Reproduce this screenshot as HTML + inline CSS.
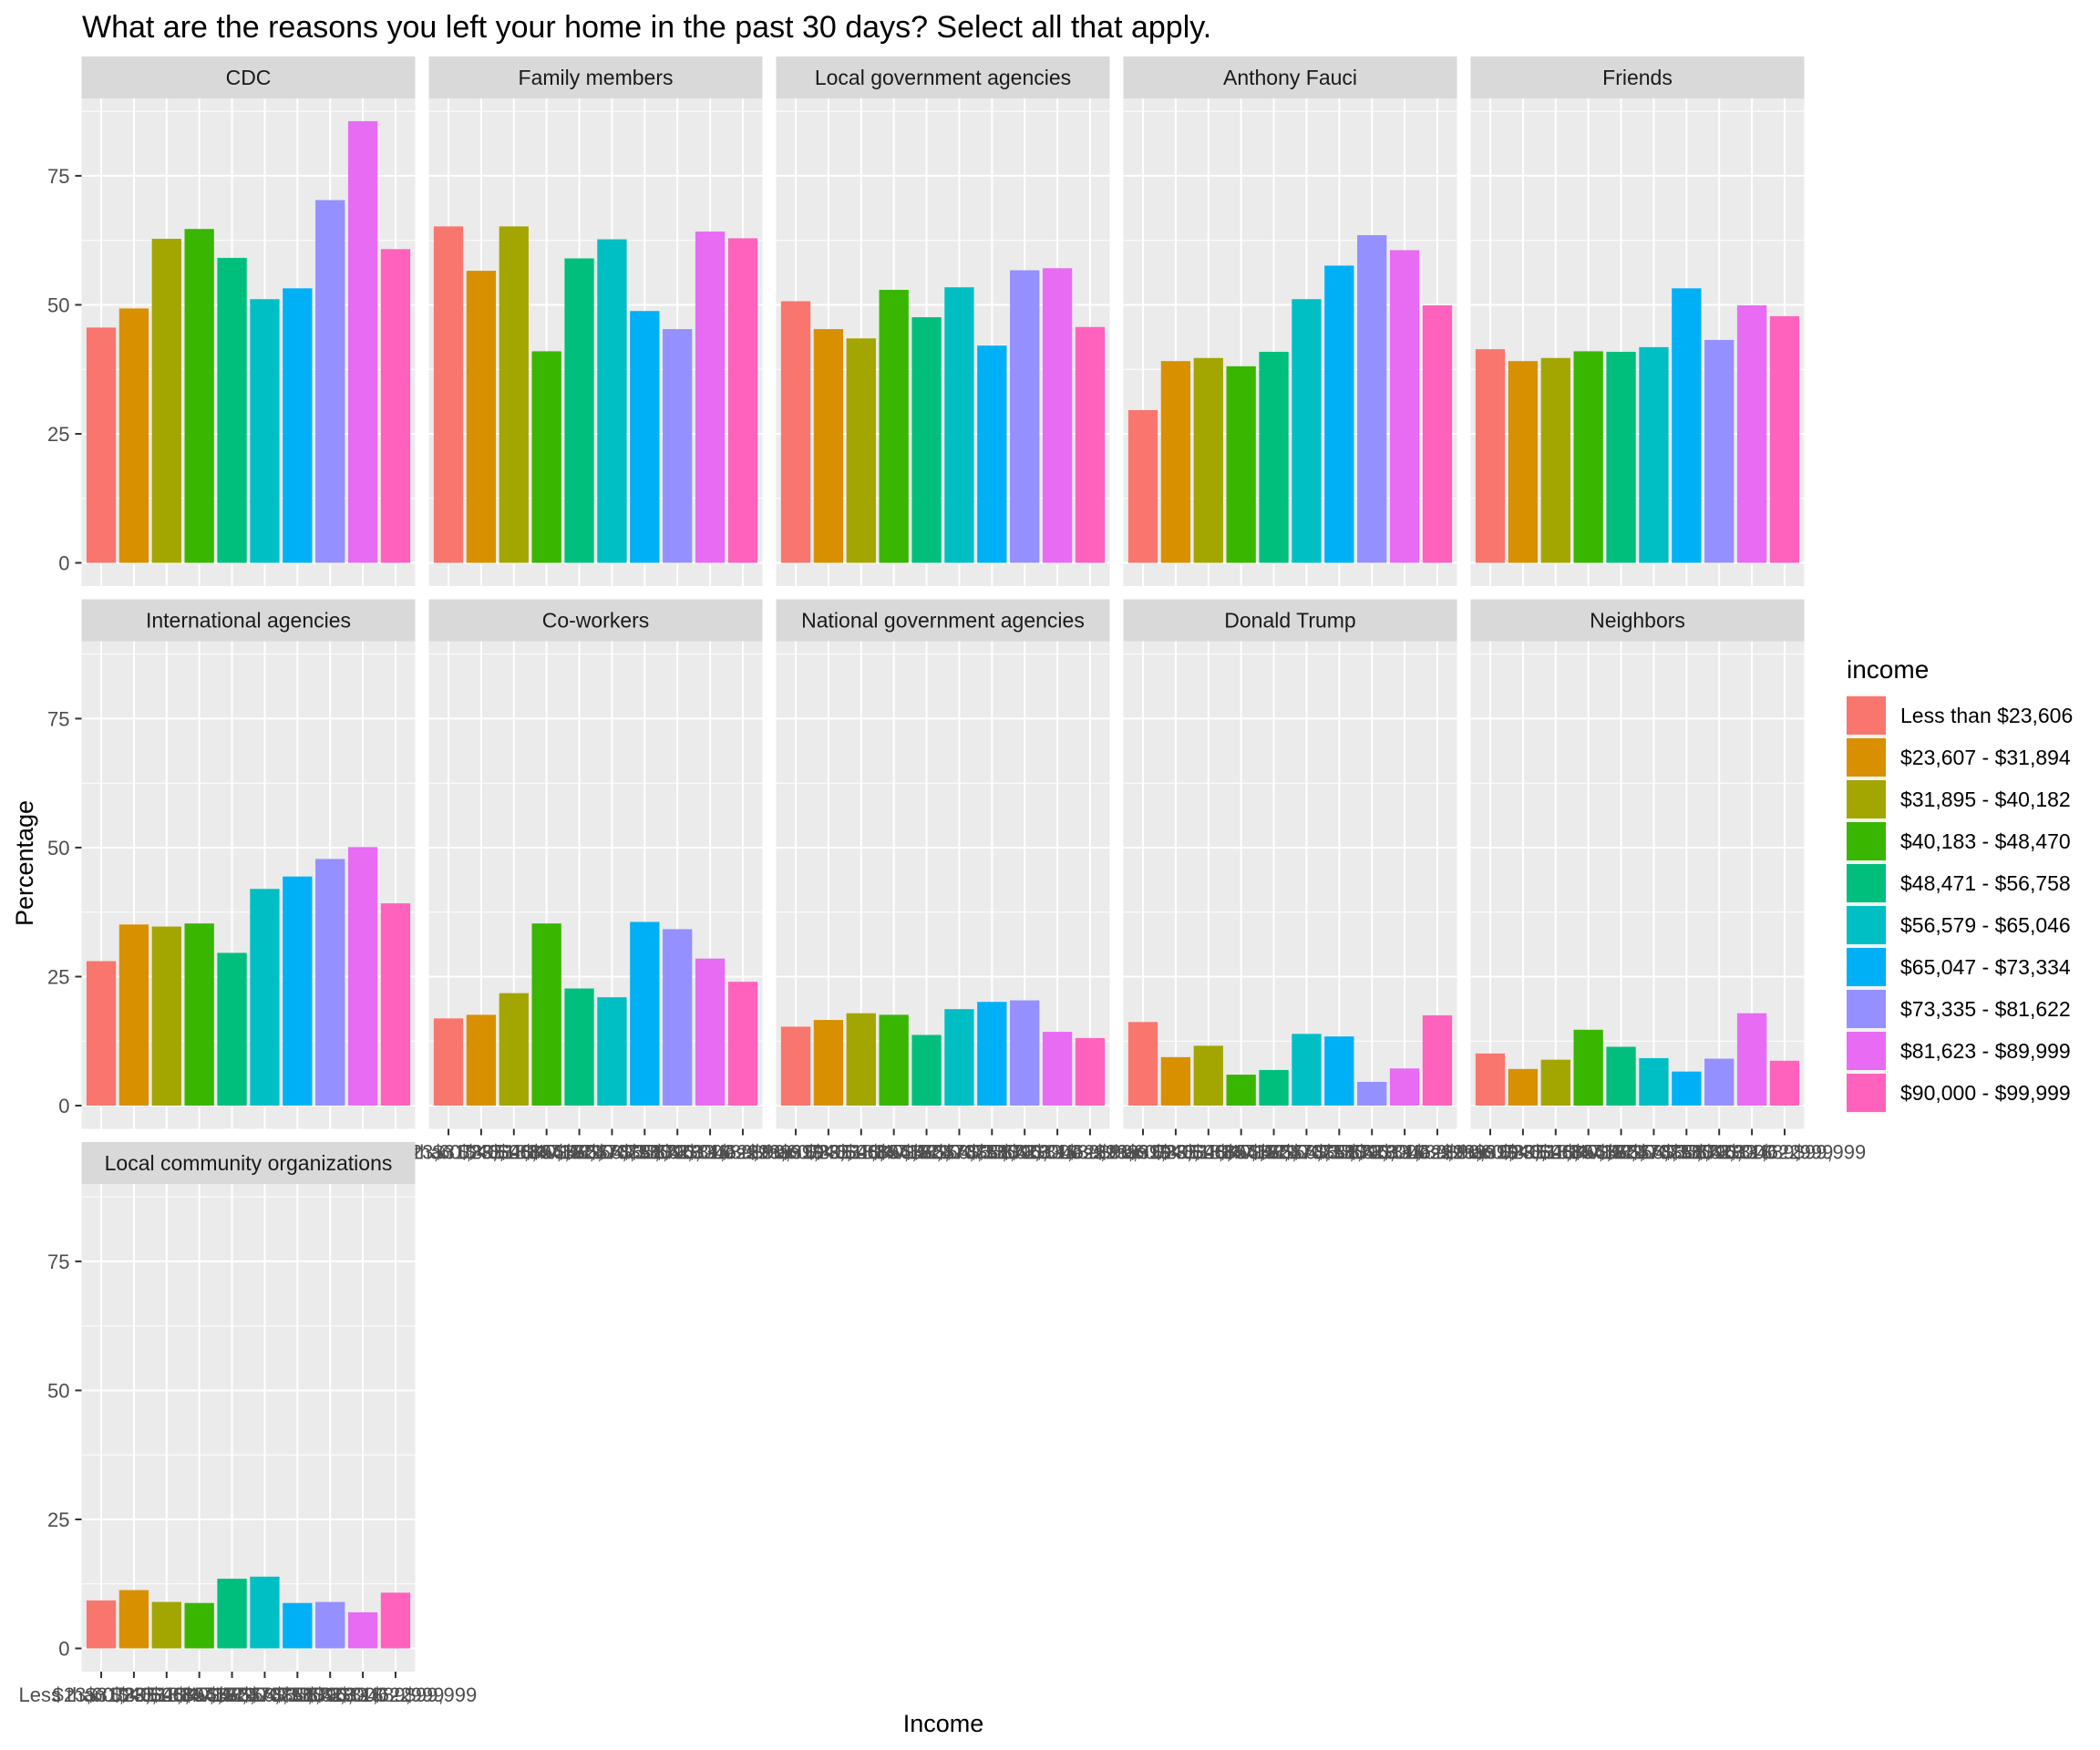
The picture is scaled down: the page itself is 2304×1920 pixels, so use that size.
<!DOCTYPE html>
<html><head><meta charset="utf-8"><style>
html,body{margin:0;padding:0;background:#fff;}
svg{display:block;font-family:"Liberation Sans",Arial,sans-serif;}
</style></head><body>
<svg id="chart" width="2304" height="1920" viewBox="0 0 2304 1920" xmlns="http://www.w3.org/2000/svg">
<rect x="0" y="0" width="2304" height="1920" fill="#ffffff"/>
<text x="90" y="41" font-size="34" fill="#000">What are the reasons you left your home in the past 30 days? Select all that apply.</text>
<text x="1035" y="1900" font-size="27" fill="#000" text-anchor="middle">Income</text>
<text x="0" y="0" font-size="27" fill="#000" text-anchor="middle" transform="translate(36,947) rotate(-90)">Percentage</text>
<g id="panels"></g>
<g id="legend"></g>
</svg>
<script>
const categories = ["Less than $23,606","$23,607 - $31,894","$31,895 - $40,182","$40,183 - $48,470","$48,471 - $56,758","$56,579 - $65,046","$65,047 - $73,334","$73,335 - $81,622","$81,623 - $89,999","$90,000 - $99,999"];
const facets = ["CDC","Family members","Local government agencies","Anthony Fauci","Friends","International agencies","Co-workers","National government agencies","Donald Trump","Neighbors","Local community organizations"];
const valsCDC = [45.6,49.3,62.8,64.7,59.1,51.1,53.2,70.3,85.6,60.8];
const valsFamily = [65.2,56.6,65.2,41.0,59.0,62.7,48.8,45.3,64.2,62.9];
const valsLocalGov = [50.7,45.3,43.5,52.9,47.6,53.4,42.1,56.7,57.1,45.7];
const valsFauci = [29.6,39.1,39.7,38.1,40.9,51.1,57.6,63.5,60.6,49.9];
const valsFriends = [41.4,39.1,39.7,41.0,40.9,41.8,53.2,43.2,49.9,47.8];
const valsIntl = [28.0,35.1,34.7,35.3,29.6,42.0,44.4,47.8,50.1,39.2];
const valsCoworkers = [16.9,17.6,21.8,35.3,22.7,21.0,35.6,34.2,28.5,24.0];
const valsNationalGov = [15.3,16.6,17.9,17.6,13.7,18.7,20.1,20.4,14.3,13.1];
const valsTrump = [16.2,9.4,11.6,6.0,6.9,13.9,13.4,4.6,7.2,17.5];
const valsNeighbors = [10.1,7.1,8.9,14.7,11.4,9.2,6.6,9.1,17.9,8.7];
const valsCommunity = [9.3,11.3,9.0,8.8,13.5,13.9,8.8,9.0,7.0,10.8];
const yTicks = [0,25,50,75];
const yMinor = [12.5,37.5,62.5,87.5];
const colors = ["#F8766D","#D89000","#A3A500","#39B600","#00BF7D","#00BFC4","#00B0F6","#9590FF","#E76BF3","#FF62BC"];
const allVals = [valsCDC,valsFamily,valsLocalGov,valsFauci,valsFriends,valsIntl,valsCoworkers,valsNationalGov,valsTrump,valsNeighbors,valsCommunity];

const NS="http://www.w3.org/2000/svg";
function mk(tag,attrs,parent){const e=document.createElementNS(NS,tag);for(const k in attrs)e.setAttribute(k,attrs[k]);parent.appendChild(e);return e;}
const panelsG=document.getElementById('panels');
const PW=366, PH=535, X0=89.5, XP=381, STRIP_TOP=62, STRIP_H=46, ROWP=595.5;
const yMin=-4.5, yMax=90;
const n=categories.length;
function slug(s){return s.toLowerCase().replace(/[^a-z0-9]+/g,'-').replace(/^-|-$/g,'');}

facets.forEach((f,i)=>{
  const row=Math.floor(i/5), col=i%5;
  const px=X0+col*XP, st=STRIP_TOP+row*ROWP, py=st+STRIP_H;
  const yS=v=>py+PH-(v-yMin)/(yMax-yMin)*PH;
  const xS=k=>px+(k+0.6)/(n+0.2)*PW;
  const band=PW/(n+0.2);
  const g=mk('g',{},panelsG);
  
  
  const strip=mk('rect',{x:px,y:st,width:PW,height:STRIP_H,fill:'#D9D9D9'},g);
  
  
  const st_t=mk('text',{x:px+PW/2,y:st+STRIP_H/2+8,'font-size':23,fill:'#1A1A1A','text-anchor':'middle'},g);
  st_t.textContent=f;
  
  
  const bg=mk('rect',{x:px,y:py,width:PW,height:PH,fill:'#EBEBEB'},g);
  
  
  yMinor.forEach(v=>{const l=mk('line',{x1:px,x2:px+PW,y1:yS(v),y2:yS(v),stroke:'#fff','stroke-width':1},g);
    
    });
  yTicks.forEach(v=>{const l=mk('line',{x1:px,x2:px+PW,y1:yS(v),y2:yS(v),stroke:'#fff','stroke-width':2},g);
    
    });
  for(let k=0;k<n;k++){const l=mk('line',{x1:xS(k),x2:xS(k),y1:py,y2:py+PH,stroke:'#fff','stroke-width':2},g);
    
    }
  allVals[i].forEach((v,k)=>{
    const b=mk('rect',{x:xS(k)-band*0.45,y:yS(v),width:band*0.9,height:yS(0)-yS(v),fill:colors[k]},g);
    
    
  });
  if(col===0){
    yTicks.forEach(v=>{
      const t=mk('line',{x1:px-7,x2:px,y1:yS(v),y2:yS(v),stroke:'#333','stroke-width':2},g);
      
      
      const tl=mk('text',{x:px-13,y:yS(v)+8,'font-size':22,fill:'#4D4D4D','text-anchor':'end'},g);
      tl.textContent=v;
      
      
    });
  }
  const hasAxis = row===2 || (row===1 && col>=1);
  if(hasAxis){
    categories.forEach((c,k)=>{
      const t=mk('line',{x1:xS(k),x2:xS(k),y1:py+PH,y2:py+PH+7,stroke:'#333','stroke-width':2},g);
      
      
      const tl=mk('text',{x:xS(k),y:py+PH+33,'font-size':22,fill:'#4D4D4D','text-anchor':'middle'},g);
      tl.textContent=c;
      
      
    });
  }
});

const lg=document.getElementById('legend');


const lt=mk('text',{x:2026,y:744,'font-size':28,fill:'#000'},lg);
lt.textContent='income';


categories.forEach((c,k)=>{
  const cy=785+k*46;
  const kb=mk('rect',{x:2026,y:cy-23,width:43,height:46,fill:'#F2F2F2'},lg);
  
  
  const r=mk('rect',{x:2026,y:cy-21,width:43,height:42,fill:colors[k]},lg);
  
  
  const t=mk('text',{x:2085,y:cy+8,'font-size':23,fill:'#000'},lg);
  t.textContent=c;
  
  
});
</script>
</body></html>
